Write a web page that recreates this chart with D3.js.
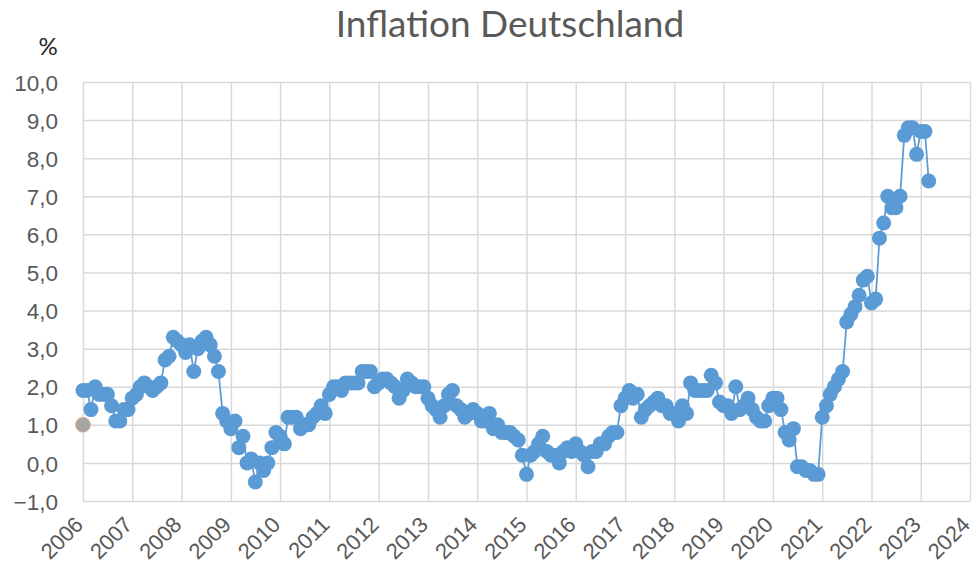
<!DOCTYPE html>
<html>
<head>
<meta charset="utf-8">
<script src="https://cdn.jsdelivr.net/npm/d3@7"></script>
<style>
  html, body { margin: 0; padding: 0; background: #fff; }
  svg { display: block; font-family: Lato, "Liberation Sans", sans-serif; }
</style>
</head>
<body>
<div id="inflation-chart"></div>
<script>
// --------------------------------------------------------- Data variables
var startYear = 2006;

// Inflationsrate ggü. Vorjahresmonat in %, Jan 2006 .. Mär 2023
var rates = [
  1.9, 1.9, 1.4, 2.0, 1.8, 1.8, 1.8, 1.5, 1.1, 1.1, 1.4, 1.4,      // 2006
  1.7, 1.8, 2.0, 2.1, 2.0, 1.9, 2.0, 2.1, 2.7, 2.8, 3.3, 3.2,      // 2007
  3.1, 2.9, 3.1, 2.4, 3.0, 3.2, 3.3, 3.1, 2.8, 2.4, 1.3, 1.1,      // 2008
  0.9, 1.1, 0.4, 0.7, 0.0, 0.1, -0.5, 0.0, -0.2, 0.0, 0.4, 0.8,    // 2009
  0.7, 0.5, 1.2, 1.2, 1.2, 0.9, 1.0, 1.0, 1.2, 1.3, 1.5, 1.3,      // 2010
  1.8, 2.0, 2.0, 1.9, 2.1, 2.1, 2.1, 2.1, 2.4, 2.4, 2.4, 2.0,      // 2011
  2.1, 2.2, 2.2, 2.1, 2.0, 1.7, 1.9, 2.2, 2.1, 2.0, 2.0, 2.0,      // 2012
  1.7, 1.5, 1.4, 1.2, 1.5, 1.8, 1.9, 1.5, 1.4, 1.2, 1.3, 1.4,      // 2013
  1.3, 1.1, 1.1, 1.3, 0.9, 1.0, 0.8, 0.8, 0.8, 0.7, 0.6, 0.2,      // 2014
  -0.3, 0.2, 0.3, 0.5, 0.7, 0.3, 0.2, 0.2, 0.0, 0.3, 0.4, 0.3,     // 2015
  0.5, 0.3, 0.2, -0.1, 0.3, 0.3, 0.5, 0.5, 0.7, 0.8, 0.8, 1.5,     // 2016
  1.7, 1.9, 1.7, 1.8, 1.2, 1.4, 1.5, 1.6, 1.7, 1.5, 1.5, 1.3,      // 2017
  1.3, 1.1, 1.5, 1.3, 2.1, 1.9, 1.9, 1.9, 1.9, 2.3, 2.1, 1.6,      // 2018
  1.5, 1.5, 1.3, 2.0, 1.4, 1.5, 1.7, 1.4, 1.2, 1.1, 1.1, 1.5,      // 2019
  1.7, 1.7, 1.4, 0.8, 0.6, 0.9, -0.1, -0.1, -0.2, -0.2, -0.3, -0.3, // 2020
  1.2, 1.5, 1.8, 2.0, 2.2, 2.4, 3.7, 3.9, 4.1, 4.4, 4.8, 4.9,      // 2021
  4.2, 4.3, 5.9, 6.3, 7.0, 6.7, 6.7, 7.0, 8.6, 8.8, 8.8, 8.1,      // 2022
  8.7, 8.7, 7.4                                                    // 2023
];

// einzelner grauer Punkt am Anfang
var extraPoint = {date: new Date(2006, 0, 1), value: 1.0};

var yTicks = [-1, 0, 1, 2, 3, 4, 5, 6, 7, 8, 9, 10];
var xTicks = [2006, 2007, 2008, 2009, 2010, 2011, 2012, 2013, 2014, 2015,
              2016, 2017, 2018, 2019, 2020, 2021, 2022, 2023, 2024];
// -------------------------------------------------------- /Data variables

var data = rates.map(function(v, i) {
  return {date: new Date(startYear, i, 1), value: v};
});

var width = 977,
    height = 571,
    plot = {left: 83, right: 970, top: 82, bottom: 501};

var x = d3.scaleTime()
    .domain([new Date(xTicks[0], 0, 1), new Date(xTicks[xTicks.length - 1], 0, 1)])
    .range([plot.left, plot.right]);

var y = d3.scaleLinear()
    .domain([-1, 10])
    .range([plot.bottom, plot.top]);

var svg = d3.select('#inflation-chart').append('svg')
    .attr('width', width)
    .attr('height', height);

// Gitternetz
var xAxis = d3.axisBottom(x)
    .tickValues(xTicks.map(function(yr) { return new Date(yr, 0, 1); }))
    .tickSize(-(plot.bottom - plot.top))
    .tickFormat(d3.timeFormat('%Y'));

var yAxis = d3.axisLeft(y)
    .tickValues(yTicks)
    .tickSize(-(plot.right - plot.left))
    .tickFormat(function(d) { return d3.format('.1f')(d).replace('.', ','); });

var gx = svg.append('g')
    .attr('class', 'x axis')
    .attr('transform', 'translate(0,' + plot.bottom + ')')
    .call(xAxis);
gx.select('.domain').remove();
gx.selectAll('line').style('stroke', '#d9d9d9').style('stroke-width', 1.5);
gx.selectAll('text')
    .style('fill', '#595959')
    .style('font-size', '22px')
    .attr('text-anchor', 'end')
    .attr('y', 0)
    .attr('dx', 0)
    .attr('dy', 0)
    .attr('transform', 'translate(1,25) rotate(-45)');

var gy = svg.append('g')
    .attr('class', 'y axis')
    .attr('transform', 'translate(' + plot.left + ',0)')
    .call(yAxis);
gy.select('.domain').remove();
gy.selectAll('line').style('stroke', '#d9d9d9').style('stroke-width', 1.5);
gy.selectAll('text')
    .attr('x', -25)
    .attr('dy', '0.36em')
    .style('fill', '#595959')
    .style('font-size', '22.5px');

// Titel und Einheit
svg.append('text')
    .attr('x', 510)
    .attr('y', 37)
    .attr('text-anchor', 'middle')
    .style('font-size', '37px')
    .style('fill', '#595959')
    .text('Inflation Deutschland');

svg.append('text')
    .attr('x', 48)
    .attr('y', 55)
    .attr('text-anchor', 'middle')
    .style('font-size', '24px')
    .style('fill', '#262626')
    .text('%');

// Linie mit Punkten
var line = d3.line()
    .x(function(d) { return x(d.date); })
    .y(function(d) { return y(d.value); });

svg.append('path')
    .datum(data)
    .attr('fill', 'none')
    .attr('stroke', '#5b9bd5')
    .attr('stroke-width', 1.75)
    .attr('d', line);

svg.append('g').selectAll('circle')
    .data(data)
  .enter().append('circle')
    .attr('cx', function(d) { return x(d.date); })
    .attr('cy', function(d) { return y(d.value); })
    .attr('r', 7.5)
    .attr('fill', '#5b9bd5');

svg.append('circle')
    .attr('cx', x(extraPoint.date))
    .attr('cy', y(extraPoint.value))
    .attr('r', 7.5)
    .attr('fill', '#a5a5a5')
    .attr('stroke', '#f4b183')
    .attr('stroke-width', 0.75);
</script>
</body>
</html>
